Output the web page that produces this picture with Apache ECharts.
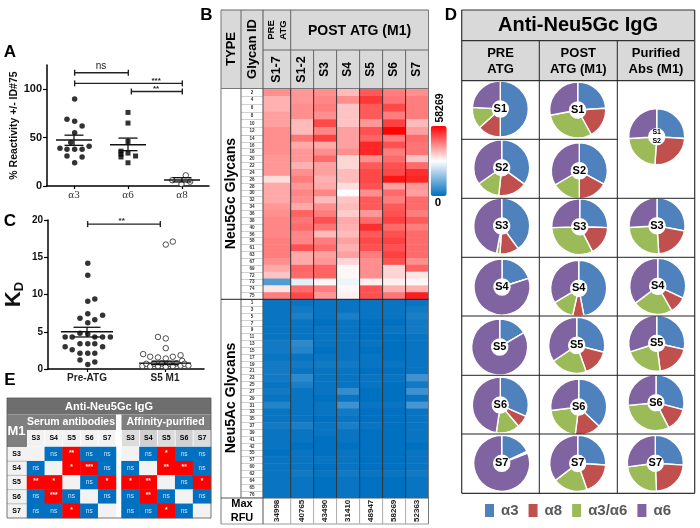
<!DOCTYPE html>
<html><head><meta charset="utf-8">
<style>html,body{margin:0;padding:0;background:#fff}#c{width:700px;height:528px}</style>
<script src="https://cdn.jsdelivr.net/npm/echarts@6/dist/echarts.min.js"></script>
</head><body><div id="c"></div>
<script>
// ---------- Panel A ----------
const aCategories = ['α3', 'α6', 'α8'];
const aAlpha3 = [[0.512,90],[0.37,69],[0.512,67],[0.65,62],[0.512,55],[0.44,45],[0.24,39],[0.37,38],[0.512,38],[0.65,38],[0.78,41],[0.37,31],[0.65,30],[0.512,24]];
const aAlpha6 = [[1.5,76],[1.5,65],[1.5,46],[1.37,36],[1.37,33],[1.37,30],[1.5,34],[1.64,31],[1.5,24]];
const aAlpha8 = [[2.32,6],[2.57,11],[2.49,2],[2.65,4.5]];
const aStats = [[0.5,47.5,42,52.5],[1.5,42.6,36.5,49.5],[2.5,6.2,4.2,8.6]];
const aBrackets = [[0.512,1.506,117,1.0],[0.512,2.506,106,2.02],[1.562,2.506,97.6,2.02]];
const aBracketLabels = ['ns','***','**'];
// ---------- Panel C ----------
const cCategories = ['Pre-ATG', 'S5 M1'];
const cPre = [[0.51,14.2],[0.51,12.6],[0.51,9.1],[0.6,9.4],[0.51,7.4],[0.7,7.2],[0.41,6.8],[0.6,6.6],[0.51,6.2],[0.41,4.8],[0.51,4.7],[0.22,4.3],[0.31,4.3],[0.6,4.3],[0.7,4.3],[0.8,4.3],[0.41,3.4],[0.51,3.4],[0.6,3.4],[0.22,3.0],[0.7,3.0],[0.31,2.6],[0.41,2.1],[0.51,2.1],[0.6,2.1],[0.41,1.2],[0.6,0.95],[0.51,0.6]];
const cS5 = [[1.51,16.7],[1.6,17.1],[1.41,4.3],[1.51,4.1],[1.51,2.8],[1.22,2.0],[1.31,1.65],[1.41,1.55],[1.51,1.4],[1.6,1.65],[1.7,1.85],[1.72,1.1],[1.21,0.4],[1.26,0.7],[1.31,0.35],[1.36,0.7],[1.41,0.4],[1.46,0.75],[1.51,0.3],[1.56,0.7],[1.6,0.4],[1.65,0.75],[1.7,0.45],[1.75,0.7],[1.8,0.45]];
const cStats = [[0.5,5.0,4.3,5.6],[1.5,0.8,0.6,1.05]];
const cBrackets = [[0.508,1.44,19.45,0.944]];
const cBracketLabels = ['**'];
// ---------- Panel B ----------
const gcIds = [2,4,6,8,10,12,14,16,18,20,22,24,26,28,30,32,34,36,38,40,56,58,61,63,67,69,72,73,74,75];
const acIds = [1,3,5,7,9,11,13,15,17,19,21,23,25,27,29,31,33,35,37,39,41,42,55,57,60,62,64,65,76];
const gcS17 = [42,38,38,40,40,42,42,42,42,41,41,41,33,39,39,39,41,42,43,43,43,44,44,44,42,39,36,9,32,44];
const gcS12 = [41,41,42,42,37,37,45,39,41,41,38,42,44,41,43,42,39,47,45,46,43,43,49,39,39,47,46,26,46,50];
const gcS3 = [42,43,44,42,50,43,51,39,42,46,40,40,38,39,43,37,42,44,49,45,37,44,46,40,41,47,47,30,44,41];
const gcS4 = [37,42,36,36,36,40,40,40,42,34,34,37,37,33,29,36,37,35,39,38,37,40,38,40,34,30,30,27,30,31];
const gcS5 = [48,52,48,48,41,49,47,54,54,42,48,50,50,49,42,48,48,41,46,53,48,50,49,44,42,42,42,31,49,49];
const gcS6 = [44,45,50,44,51,58,44,49,44,46,49,50,56,40,46,44,48,49,51,46,49,51,49,51,49,34,34,31,38,45];
const gcS7 = [42,44,44,44,37,40,46,45,45,36,46,53,54,41,40,46,46,44,48,44,46,46,46,46,42,47,32,30,38,55];
const acS17 = [1,1,1,1,1,1,2,2,1,2,2,2,1,2,1,4,1,1,2,1,1,1,0,1,1,1,1,1,1];
const acS12 = [1,2,3,1,1,1,5,4,1,2,1,5,3,1,1,1,1,1,3,1,1,0,1,1,1,2,1,1,1];
const acS3 = [1,1,1,0,1,1,1,0,1,2,1,1,1,1,0,1,1,0,1,1,0,0,0,1,0,1,0,0,0];
const acS4 = [1,1,3,1,1,1,1,1,1,2,1,1,1,6,1,7,2,1,3,1,1,0,1,1,1,2,1,1,1];
const acS5 = [1,1,1,0,0,0,1,0,1,1,0,1,1,0,0,1,0,0,1,0,0,0,0,0,0,1,0,0,0];
const acS6 = [1,1,1,0,1,0,0,0,0,1,0,1,0,0,0,1,0,0,0,0,0,0,0,0,0,1,0,0,0];
const acS7 = [1,2,3,2,2,1,1,1,1,1,1,7,2,7,1,8,1,1,1,1,1,0,1,1,1,2,1,1,1];
const maxRfu = ['34998','40765','43490','31410','48947','58269','52363'];
const rfuMax = 58.269;
const heatHeaders = ['S1-7','S1-2','S3','S4','S5','S6','S7'];
// ---------- Panel D ----------
const pieNames = ['α3','α8','α3/α6','α6'];
const pieColors = ['#4f81bd','#c0504d','#9bbb59','#8064a2'];
const pieS1 = {pre:[50,13.4,12.5,24.1],post:[24,18,30,28],pur:[26,25,23,26]};
const pieS2 = {pre:[35,16.7,13.6,34.7],post:[33,17,16.5,33.5]};
const pieS3 = {pre:[40,11,2,47],post:[25.5,17,32,25.5],pur:[28,21,25,26]};
const pieS4 = {pre:[20,0,0,80],post:[47,6.5,13,33.5],pur:[32,9.7,23,35.3]};
const pieS5 = {pre:[16.5,0,0,83.5],post:[29,15.5,21,34.5],pur:[28.5,19.5,22,30]};
const pieS6 = {pre:[31.7,7,13.6,47.7],post:[37,15,21,27],pur:[29,13.5,31,26.5]};
const pieS7 = {pre:[18,0.5,0.5,81],post:[26,18.6,20,35.4],pur:[26,23.3,23.6,27]};
// ---------- Panel E ----------
const eHeaders = ['S3','S4','S5','S6','S7'];
const eSerum = [['','ns','**','ns','ns'],['ns','','*','***','ns'],['**','*','','ns','*'],['ns','***','ns','','ns'],['ns','ns','*','ns','']];
const ePurified = [['','ns','*','ns','ns'],['ns','','**','**','ns'],['*','**','','ns','*'],['ns','**','ns','','ns'],['ns','ns','*','ns','']];

const FF = '"Liberation Sans", Arial, sans-serif';
const grid = [], xAxis = [], yAxis = [], series = [], elements = [];

function addGrid(g, x, y) {
  grid.push(Object.assign({containLabel:false,outerBoundsMode:'none'}, g));
  const i = grid.length - 1;
  xAxis.push(Object.assign({gridIndex:i}, x));
  yAxis.push(Object.assign({gridIndex:i}, y));
  return i;
}
const rect = (x,y,w,h,fill,z) => elements.push({type:'rect',x,y,z:z||0,silent:true,shape:{x:0,y:0,width:w,height:h},style:{fill,stroke:null}});
const line = (x1,y1,x2,y2,c,w,z) => elements.push({type:'line',z:z||20,silent:true,shape:{x1,y1,x2,y2},style:{stroke:c,lineWidth:w}});
const text = (s,x,y,size,o) => { o=o||{}; elements.push({type:'text',x,y,z:o.z||30,silent:true,rotation:o.rot?Math.PI/2:0,style:{text:s,fontFamily:FF,fontWeight:o.weight||'bold',fontSize:size,fill:o.fill||'#000',textAlign:'center',textVerticalAlign:'middle',lineHeight:o.lh}}); };

function statSeries(gi, data, halfMean, halfCap) {
  return {type:'custom',xAxisIndex:gi,yAxisIndex:gi,silent:true,clip:false,z:4,data,
    renderItem(p,api){
      const x=api.value(0);
      const m=api.coord([x,api.value(1)]), l=api.coord([x,api.value(2)]), h=api.coord([x,api.value(3)]);
      const st={stroke:'#111',lineWidth:1.3,fill:null};
      const seg=(a,b,c,d)=>({type:'line',shape:{x1:a,y1:b,x2:c,y2:d},style:st});
      return {type:'group',children:[seg(m[0]-halfMean,m[1],m[0]+halfMean,m[1]),seg(m[0],l[1],m[0],h[1]),seg(m[0]-halfCap,l[1],m[0]+halfCap,l[1]),seg(m[0]-halfCap,h[1],m[0]+halfCap,h[1])]};
    }};
}
function bracketSeries(gi, data, labels) {
  return {type:'custom',xAxisIndex:gi,yAxisIndex:gi,silent:true,clip:false,z:4,data,
    renderItem(p,api){
      const a=api.coord([api.value(0),api.value(2)]), b=api.coord([api.value(1),api.value(2)]), t=api.coord([api.value(3),api.value(2)]);
      const st={stroke:'#222',lineWidth:1.4,fill:null};
      const lab=labels[p.dataIndex], ns=lab==='ns';
      return {type:'group',children:[
        {type:'line',shape:{x1:a[0],y1:a[1],x2:b[0],y2:b[1]},style:st},
        {type:'line',shape:{x1:a[0],y1:a[1]-3,x2:a[0],y2:a[1]+3},style:st},
        {type:'line',shape:{x1:b[0],y1:b[1]-3,x2:b[0],y2:b[1]+3},style:st},
        {type:'text',x:t[0],y:t[1]-(ns?6:3),style:{text:lab,fontFamily:FF,fontSize:ns?10:8,fontWeight:ns?'normal':'bold',fill:'#222',textAlign:'center',textVerticalAlign:'middle'}}
      ]};
    }};
}
const axisLineBlack = {show:true,onZero:false,lineStyle:{color:'#000',width:1.5}};

// Panel A
const gA = addGrid({left:47,top:65,width:162,height:121},
  {type:'value',min:0,max:3,axisLine:axisLineBlack,splitLine:{show:false},
   axisTick:{show:true,length:3,lineStyle:{color:'#000',width:1.2},customValues:[0.5,1.5,2.5]},
   axisLabel:{customValues:[0.5,1.5,2.5],formatter:v=>aCategories[Math.floor(v)],margin:4,fontFamily:'"Liberation Serif",serif',fontSize:11,color:'#333'}},
  {type:'value',min:0,max:125,name:'% Reactivity +/- ID#75',nameLocation:'middle',nameGap:24,nameTextStyle:{fontFamily:FF,fontWeight:'bold',fontSize:10.5,color:'#111'},
   axisLine:axisLineBlack,splitLine:{show:false},
   axisTick:{show:true,length:4,lineStyle:{color:'#000',width:1.2},customValues:[0,50,100]},
   axisLabel:{customValues:[0,50,100],margin:5,fontFamily:FF,fontWeight:'bold',fontSize:11,color:'#111'}});
series.push({type:'scatter',name:'A-alpha3',xAxisIndex:gA,yAxisIndex:gA,data:aAlpha3,symbol:'circle',symbolSize:5.5,itemStyle:{color:'#000'},z:3});
series.push({type:'scatter',name:'A-alpha6',xAxisIndex:gA,yAxisIndex:gA,data:aAlpha6,symbol:'rect',symbolSize:5,itemStyle:{color:'#000'},z:3});
series.push({type:'scatter',name:'A-alpha8',xAxisIndex:gA,yAxisIndex:gA,data:aAlpha8,symbol:'circle',symbolSize:5.5,itemStyle:{color:'#fff',borderColor:'#222',borderWidth:1},z:3});
series.push(statSeries(gA,aStats,18,9.5));
series.push(bracketSeries(gA,aBrackets,aBracketLabels));

// Panel C
const gC = addGrid({left:48,top:220,width:156,height:149},
  {type:'value',min:0,max:2,axisLine:axisLineBlack,splitLine:{show:false},
   axisTick:{show:true,length:3,lineStyle:{color:'#000',width:1.2},customValues:[0.5,1.5]},
   axisLabel:{customValues:[0.5,1.5],formatter:v=>cCategories[Math.floor(v)],margin:4,fontFamily:FF,fontWeight:'bold',fontSize:10,color:'#222'}},
  {type:'value',min:0,max:20,interval:5,name:'{k|K}{d|D}',nameLocation:'middle',nameGap:22,
   nameTextStyle:{rich:{k:{fontFamily:FF,fontWeight:'bold',fontSize:22,color:'#111'},d:{fontFamily:FF,fontWeight:'bold',fontSize:13,color:'#111',padding:[12,0,0,0]}}},
   axisLine:axisLineBlack,splitLine:{show:false},
   axisTick:{show:true,length:4,lineStyle:{color:'#000',width:1.2}},
   axisLabel:{margin:5,fontFamily:FF,fontWeight:'bold',fontSize:10,color:'#111'}});
series.push({type:'scatter',name:'Pre-ATG',xAxisIndex:gC,yAxisIndex:gC,data:cPre,symbol:'circle',symbolSize:5.5,itemStyle:{color:'#000'},z:3});
series.push({type:'scatter',name:'S5 M1',xAxisIndex:gC,yAxisIndex:gC,data:cS5,symbol:'circle',symbolSize:5.5,itemStyle:{color:'#fff',borderColor:'#222',borderWidth:1},z:3});
series.push(statSeries(gC,cStats,26,13.5));
series.push(bracketSeries(gC,cBrackets,cBracketLabels));

// Panel E
const eCols = ['S3','S4','S5','S6','S7'];
function eCells(m){const out=[];m.forEach((r,y)=>r.forEach((t,x)=>{
  const color=t===''?'#f2f2f2':(t==='ns'?'#0070c0':'#ff0000');
  out.push({value:[x,y,t===''?0:(t==='ns'?1:2)],itemStyle:{color},label:{show:t!=='',formatter:t,fontFamily:FF,fontSize:t==='ns'?6.5:6.5,fontWeight:t==='ns'?'normal':'bold',color:t==='ns'?'#cfe3f5':'#fff',offset:[0,t==='ns'?0:-1]}});
}));return out;}
[[eSerum,27,89],[ePurified,121.5,89.5]].forEach(([m,l,w])=>{
  const g=addGrid({left:l,top:447,width:w,height:71},
    {type:'category',data:eCols,show:false},
    {type:'category',data:eCols,inverse:true,show:false});
  series.push({type:'heatmap',xAxisIndex:g,yAxisIndex:g,data:eCells(m),silent:true,z:3,itemStyle:{borderWidth:0}});
});

// Panel B heatmaps: column groups and row segments are laid out by these blocks
const gcCols=[gcS17,gcS12,gcS3,gcS4,gcS5,gcS6,gcS7], acCols=[acS17,acS12,acS3,acS4,acS5,acS6,acS7];
const colGroups=[{from:0,to:1,left:263,width:27.7},{from:1,to:7,left:290.7,width:137.8}];
const rowSegs=[{ids:gcIds,cols:gcCols,from:0,to:6,top:88.5,height:46.5},{ids:gcIds,cols:gcCols,from:6,to:30,top:135,height:164.3},{ids:acIds,cols:acCols,from:0,to:29,top:299.3,height:198.4,last:true}];
const heatIdx=[];
rowSegs.forEach(seg=>{
  colGroups.forEach((cg,ci)=>{
    const rows=seg.ids.slice(seg.from,seg.to).map(String);
    const cols=maxRfu.slice(cg.from,cg.to);
    const g=addGrid({left:cg.left,top:seg.top,width:cg.width,height:seg.height},
      {type:'category',data:cols,axisLine:{show:false},axisTick:{show:false},
       axisLabel:{show:!!seg.last,interval:0,rotate:90,margin:2,fontFamily:FF,fontWeight:'bold',fontSize:8,color:'#222'}},
      {type:'category',data:rows,inverse:true,axisLine:{show:false},
       axisTick:{show:ci===0,length:22,lineStyle:{color:'#bbb',width:0.7}},
       axisLabel:{show:ci===0,interval:0,margin:11,align:'center',fontFamily:FF,fontWeight:'bold',fontSize:4.6,color:'#333'}});
    const d=[];
    for(let c=cg.from;c<cg.to;c++)for(let r=seg.from;r<seg.to;r++)d.push([c-cg.from,r-seg.from,seg.cols[c][r]]);
    heatIdx.push(series.length);
    series.push({type:'heatmap',xAxisIndex:g,yAxisIndex:g,data:d,silent:true,z:3,itemStyle:{borderWidth:0},progressive:0});
  });
});

// Panel B chrome
rect(221,10,207.5,78.5,'#d9d9d9');
line(221,10,428.5,10,'#666',1);line(221,10,221,524,'#777',1);line(428.5,10,428.5,524,'#777',1);
line(221,88.5,428.5,88.5,'#777',1);line(221,524,428.5,524,'#999',1);line(221,498,428.5,498,'#555',1);
line(241,10,241,498,'#666',1);line(263,10,263,524,'#555',1);
line(263,50,428.5,50,'#666',1);
const colEdges=[290.7,313.6,336.6,359.6,382.6,405.6];
colEdges.forEach((x,i)=>{line(x,i===0?10:50,x,88.5,'#666',1);line(x,88.5,x,498,'#333',1);line(x,498,x,524,'#aaa',1);});
line(221,299.3,428.5,299.3,'#222',1);
text('TYPE',231,49,13,{rot:1});text('Glycan ID',252,49,13,{rot:1});
text('PRE\nATG',277,30,9.5,{rot:1,lh:12});text('POST ATG (M1)',359.5,31,14);
const colCenters=[277,302,325,348,371,394,417];
heatHeaders.forEach((h,i)=>text(h,colCenters[i],69.5,i<2?12.5:12,{rot:1}));
text('Neu5Gc Glycans',231,193.5,14,{rot:1});text('Neu5Ac Glycans',231,398,14,{rot:1});
text('Max\nRFU',242,511,11,{lh:14});
text('58269',440,108,10.5,{rot:1});text('0',438,203,11.5);

// Panel D chrome
const dCols=[461.7,539.3,617.3,694.7],dRows=[80.7,139.3,198.3,257.3,316,375.3,434,493.3];
rect(461.7,10,233,70.7,'#d9d9d9');
[10,40.7,80.7,493.3].forEach(y=>line(461.7,y,694.7,y,'#333',1.2));
[461.7,694.7].forEach(x=>line(x,10,x,493.3,'#333',1.2));
[539.3,617.3].forEach(x=>line(x,40.7,x,493.3,'#222',1));
dRows.slice(1,-1).forEach((y,i)=>line(461.7,y,i===0?617.3:694.7,y,'#222',1));
text('Anti-Neu5Gc IgG',578,25.5,20);
text('PRE\nATG',500.5,61,13,{lh:16});text('POST\nATG (M1)',578.3,61,13,{lh:16});text('Purified\nAbs (M1)',656,61,13,{lh:16});

// Panel letters
text('A',10,52,17);text('B',206.5,15,17);text('C',10,221,17);text('D',451,15,17);text('E',10,380,17);

// Panel E chrome
rect(7,398,204,16.5,'#6e6e6e');rect(7,414.5,20,32.5,'#7f7f7f');rect(27,414.5,184,15.5,'#7f7f7f');
rect(116,414.5,5.5,103.5,'#ffffff',1);
rect(7,447,20,71,'#f2f2f2');
eHeaders.forEach((h,i)=>{
  const w=89/5,x=27+i*w;
  rect(x+0.4,430,w-0.8,16.5,'#f2f2f2');text(h,x+w/2,438.5,7);
  const w2=89.5/5,x2=121.5+i*w2;
  rect(x2+0.4,430,w2-0.8,16.5,i%2?'#d0d0d0':'#dcdcdc');text(h,x2+w2/2,438.5,7);
  const y=447+i*14.2;text(h,16.5,y+7.1,7);
  if(i)line(7,y,27,y,'#999',0.6);
});
text('Anti-Neu5Gc IgG',109,406.5,11,{fill:'#fff'});
text('Serum antibodies',71,422,10.5,{fill:'#fff'});text('Affinity-purified',165.5,422,10.5,{fill:'#fff'});
text('M1',16.5,431,13,{fill:'#fff'});
line(7,398,211,398,'#555',0.8);line(7,518,211,518,'#555',0.8);line(7,398,7,518,'#555',0.8);line(211,398,211,518,'#555',0.8);

// Panel D pies
function pie(vals,cx,cy,lab,small){
  series.push({type:'pie',name:lab.replace('\n','/'),silent:true,center:[cx,cy],radius:[8,28],startAngle:90,clockwise:true,avoidLabelOverlap:false,z:3,
    itemStyle:{borderColor:'#fff',borderWidth:1.4},label:{show:false},labelLine:{show:false},
    data:pieNames.map((n,i)=>{const d={name:n,value:vals[i],itemStyle:{color:pieColors[i]}};
      if(i===0)d.label={show:true,position:'center',formatter:lab,fontFamily:FF,fontWeight:'bold',fontSize:small?7:11,lineHeight:small?8.5:12,color:'#000'};
      return d;})});
}
pie(pieS1.pre,500.3,109,'S1');pie(pieS1.post,577.7,110,'S1');pie(pieS1.pur,656.7,136.7,'S1\nS2',true);
pie(pieS2.pre,501.7,167.7,'S2');pie(pieS2.post,579.3,170.7,'S2');
pie(pieS3.pre,501.7,226,'S3');pie(pieS3.post,579.7,226.7,'S3');pie(pieS3.pur,657,225.7,'S3');
pie(pieS4.pre,502,287,'S4');pie(pieS4.post,578.7,288.3,'S4');pie(pieS4.pur,657.7,286.3,'S4');
pie(pieS5.pre,499.7,347,'S5');pie(pieS5.post,576.7,345.3,'S5');pie(pieS5.pur,656.7,343.3,'S5');
pie(pieS6.pre,500.3,405,'S6');pie(pieS6.post,578.7,407,'S6');pie(pieS6.pur,656,402.7,'S6');
pie(pieS7.pre,501.7,463.3,'S7');pie(pieS7.post,577.7,463.3,'S7');pie(pieS7.pur,655.3,463.3,'S7');

const chart = echarts.init(document.getElementById('c'),null,{renderer:'canvas'});
chart.setOption({
  animation:false,backgroundColor:'#fff',tooltip:{show:false},color:pieColors,
  grid,xAxis,yAxis,series,
  graphic:{elements},
  legend:{data:pieNames,left:483,top:502,padding:0,icon:'rect',itemWidth:11,itemHeight:15,itemGap:8,selectedMode:false,
    textStyle:{fontFamily:FF,fontSize:15,fontWeight:'bold',color:'#595959',padding:[0,0,0,1]}},
  visualMap:{type:'continuous',seriesIndex:heatIdx,min:0,max:rfuMax,left:430.7,top:126,itemWidth:16,itemHeight:70,padding:0,
    calculable:false,show:true,text:null,showLabel:false,inRange:{color:['#0070c0','#ffffff','#ff0000']},textStyle:{fontSize:0,color:'transparent'},formatter:()=>''}
});
</script></body></html>
